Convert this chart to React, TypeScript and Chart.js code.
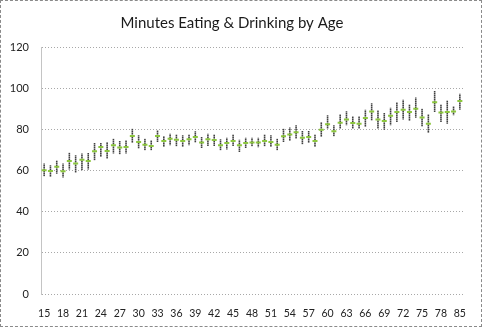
import React, { useEffect, useRef } from "react";
import { Chart, registerables } from "chart.js";

Chart.register(...registerables);

const ages = [
  "15","16","17","18","19","20","21","22","23","24","25","26","27","28","29","30","31","32","33","34",
  "35","36","37","38","39","40","41","42","43","44","45","46","47","48","49","50","51","52","53","54",
  "55","56","57","58","59","60","61","62","63","64","65","66","67","68","69","70","71","72","73","74",
  "75","76","77","78","79","80","85",
];

const means = [
  60.2, 59.9, 61.9, 59.8, 64.8, 63.5, 65.4, 64.8, 69.5, 71.6,
  69.6, 72.4, 71.3, 71.6, 76.9, 74.0, 72.7, 72.0, 76.9, 74.5,
  75.6, 75.1, 74.5, 75.3, 76.4, 73.7, 75.3, 75.0, 72.4, 73.5,
  74.5, 72.4, 73.5, 73.7, 73.7, 74.5, 74.0, 72.7, 76.8, 77.6,
  78.7, 76.1, 76.4, 74.5, 80.0, 82.6, 79.2, 83.4, 85.0, 83.2,
  82.9, 85.7, 88.9, 84.9, 84.2, 86.8, 88.6, 89.7, 88.6, 90.2,
  85.9, 82.9, 93.4, 88.3, 88.6, 88.9, 93.9,
];

const highs = [
  63.5, 62.7, 65.0, 63.5, 68.8, 67.5, 68.4, 68.7, 73.5, 73.5,
  74.0, 75.6, 74.5, 74.8, 80.5, 77.3, 75.6, 74.8, 79.7, 76.9,
  78.0, 77.7, 77.3, 77.7, 79.2, 76.4, 78.0, 77.6, 75.3, 76.1,
  77.6, 75.1, 76.1, 76.1, 76.1, 77.7, 77.3, 75.6, 80.5, 81.0,
  82.1, 79.3, 79.3, 77.7, 83.7, 87.0, 82.1, 87.5, 89.0, 86.5,
  86.5, 89.7, 92.9, 89.4, 88.1, 90.7, 93.4, 94.6, 92.3, 95.6,
  90.2, 87.5, 98.8, 92.3, 94.2, 91.4, 97.5,
];

const lows = [
  57.3, 57.0, 58.6, 56.7, 60.6, 59.0, 60.2, 60.6, 65.1, 66.7,
  65.9, 68.4, 68.0, 68.4, 73.5, 70.8, 70.0, 70.0, 74.0, 71.6,
  72.4, 71.9, 71.6, 72.4, 73.7, 71.1, 72.0, 72.0, 70.0, 70.4,
  72.0, 69.1, 71.1, 71.9, 71.4, 71.9, 71.6, 70.0, 74.0, 74.5,
  75.6, 72.9, 73.5, 71.6, 76.4, 80.5, 76.8, 80.5, 82.1, 80.5,
  80.5, 81.3, 84.5, 80.5, 80.0, 82.1, 83.7, 84.9, 84.2, 85.8,
  81.6, 78.4, 88.6, 83.7, 82.9, 87.0, 89.7,
];

const yTicks = [0, 20, 40, 60, 80, 100, 120];
const title = "Minutes Eating & Drinking by Age";

function makeStripe(): CanvasPattern | string {
  const c = document.createElement("canvas");
  c.width = 2;
  c.height = 2;
  const g = c.getContext("2d");
  if (!g) return "#666";
  g.fillStyle = "#404040";
  g.fillRect(0, 0, 2, 1);
  g.fillStyle = "#8c8c8c";
  g.fillRect(0, 1, 2, 1);
  const p = g.createPattern(c, "repeat");
  return p || "#666";
}

export default function App() {
  const ref = useRef<HTMLCanvasElement>(null);

  useEffect(() => {
    if (!ref.current) return;
    const ranges = lows.map((l, i) => [l, highs[i]]);
    const chart = new Chart(ref.current, {
      type: "bar",
      data: {
        labels: ages,
        datasets: [
          {
            type: "line",
            data: means,
            showLine: false,
            pointStyle: "line",
            pointRadius: 2.5,
            pointBorderWidth: 2,
            pointBorderColor: "#8cc63e",
            pointBackgroundColor: "#8cc63e",
            order: 0,
          } as any,
          {
            type: "bar",
            data: ranges as any,
            backgroundColor: makeStripe() as any,
            barThickness: 1.6,
            maxBarThickness: 1.6,
            inflateAmount: 0,
            borderWidth: 0,
            order: 1,
          } as any,
        ],
      },
      options: {
        animation: false,
        responsive: false,
        maintainAspectRatio: false,
        layout: { padding: { left: 0, right: 18, top: 0, bottom: 0 } },
        plugins: {
          legend: { display: false },
          tooltip: { enabled: false },
          title: {
            display: true,
            text: title,
            color: "#1a1a1a",
            font: { family: "Lato", size: 15, weight: "normal" },
            padding: { top: 13, bottom: 15.5 },
          },
        },
        scales: {
          x: {
            offset: true,
            grid: { display: false, drawTicks: false },
            border: { display: false },
            ticks: {
              autoSkip: false,
              maxRotation: 0,
              minRotation: 0,
              padding: 13,
              color: "#222",
              font: { family: "Lato", size: 10.5 },
              callback: (_v: any, i: number) => (i % 3 === 0 ? ages[i] : ""),
            },
            afterFit: (s: any) => {
              s.height = 32;
            },
          },
          y: {
            min: 0,
            max: 120,
            afterBuildTicks: (s: any) => {
              s.ticks = yTicks.map((v) => ({ value: v }));
            },
            grid: { color: "#a8a8a8", drawTicks: false, lineWidth: 1 },
            border: { display: true, color: "#c4c4c4", dash: [1, 2] },
            ticks: {
              padding: 12,
              color: "#222",
              font: { family: "Lato", size: 11 },
            },
            afterFit: (s: any) => {
              s.width = 40;
            },
          },
        },
      },
    });
    return () => chart.destroy();
  }, []);

  return (
    <div
      style={{
        position: "fixed",
        left: 0,
        top: 0,
        width: 482,
        height: 327,
        boxSizing: "border-box",
        border: "1px dashed #8a8a8a",
        background: "#fff",
      }}
    >
      <canvas ref={ref} width={480} height={325} style={{ display: "block", width: 480, height: 325 }} />
    </div>
  );
}
